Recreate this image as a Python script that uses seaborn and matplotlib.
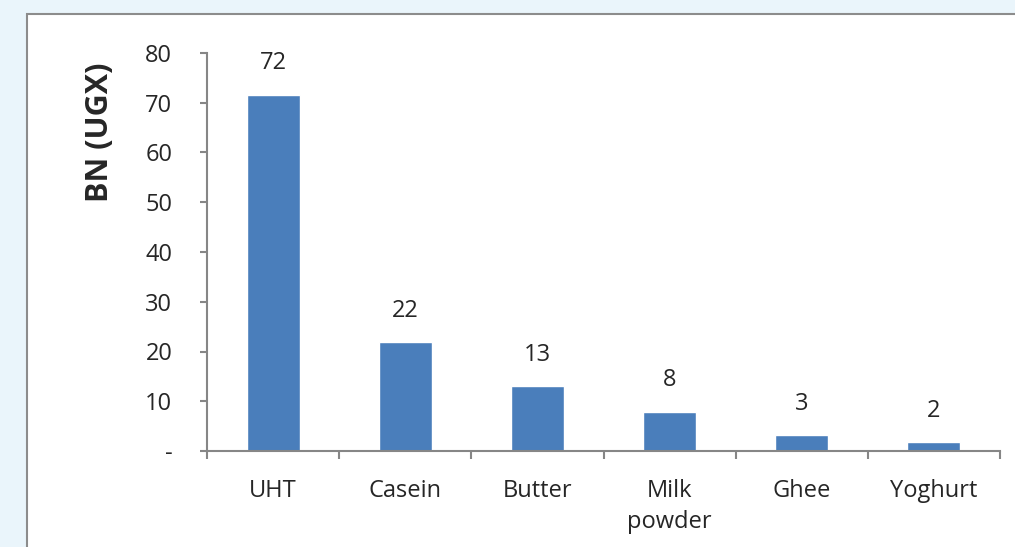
import matplotlib
matplotlib.use("Agg")
import matplotlib.pyplot as plt
import seaborn as sns
import pandas as pd
from matplotlib.patches import Rectangle

# data
products = ['UHT', 'Casein', 'Butter', 'Milk\npowder', 'Ghee', 'Yoghurt']
values = [71.6, 21.9, 13.0, 7.9, 3.2, 1.8]
value_labels = ['72', '22', '13', '8', '3', '2']
yticks = [0, 10, 20, 30, 40, 50, 60, 70, 80]
ytick_labels = ['-', '10', '20', '30', '40', '50', '60', '70', '80']

df = pd.DataFrame({'product': products, 'bn': values})

sns.set_style('white')
plt.rcParams['font.family'] = ['Open Sans', 'DejaVu Sans']

axis_grey = '#868686'
bar_blue = '#4a7ebb'
fs = 17

fig = plt.figure(figsize=(10.15, 5.47), dpi=100)
fig.patch.set_facecolor('#eaf5fb')

# white chart area panel (cropped on right and bottom)
panel = Rectangle((27 / 1015, -0.05), 1.0, 1 - 14 / 547 + 0.05,
                  transform=fig.transFigure, facecolor='white',
                  edgecolor='#8c8c8c', linewidth=1.5, zorder=-10)
fig.add_artist(panel)

ax = fig.add_axes([207 / 1015, 1 - 451 / 547, (1000 - 207) / 1015, (451 - 53) / 547])
ax.set_facecolor('none')

sns.barplot(data=df, x='product', y='bn', color=bar_blue, width=0.4,
            saturation=1, ax=ax)

ax.set_ylim(0, 80)
ax.set_xlim(-0.5, len(products) - 0.5)
ax.set_yticks(yticks)
ax.set_yticklabels(ytick_labels)

# category boundary ticks on the x axis
ax.set_xticks([i - 0.5 for i in range(len(products) + 1)], minor=True)
ax.tick_params(axis='x', which='major', length=0, pad=20, labelsize=fs)
ax.tick_params(axis='x', which='minor', length=6, width=1.5, color=axis_grey,
               direction='out', bottom=True)
ax.tick_params(axis='y', length=5, width=1.5, color=axis_grey, direction='out',
               left=True, pad=20, labelsize=fs)
for lab in ax.get_xticklabels():
    lab.set_linespacing(1.4)

sns.despine(ax=ax, top=True, right=True)
for side in ['left', 'bottom']:
    ax.spines[side].set_color(axis_grey)
    ax.spines[side].set_linewidth(1.5)

ax.set_xlabel('')
ax.set_ylabel('BN (UGX)', fontsize=22, fontweight='bold')
ax.yaxis.set_label_coords(-0.116, 0.8)

for i, (v, lab) in enumerate(zip(values, value_labels)):
    ax.annotate(lab, (i, v), xytext=(0, 14), textcoords='offset points',
                ha='center', va='bottom', fontsize=fs)

fig.savefig('out.png', dpi=100, facecolor=fig.get_facecolor())
